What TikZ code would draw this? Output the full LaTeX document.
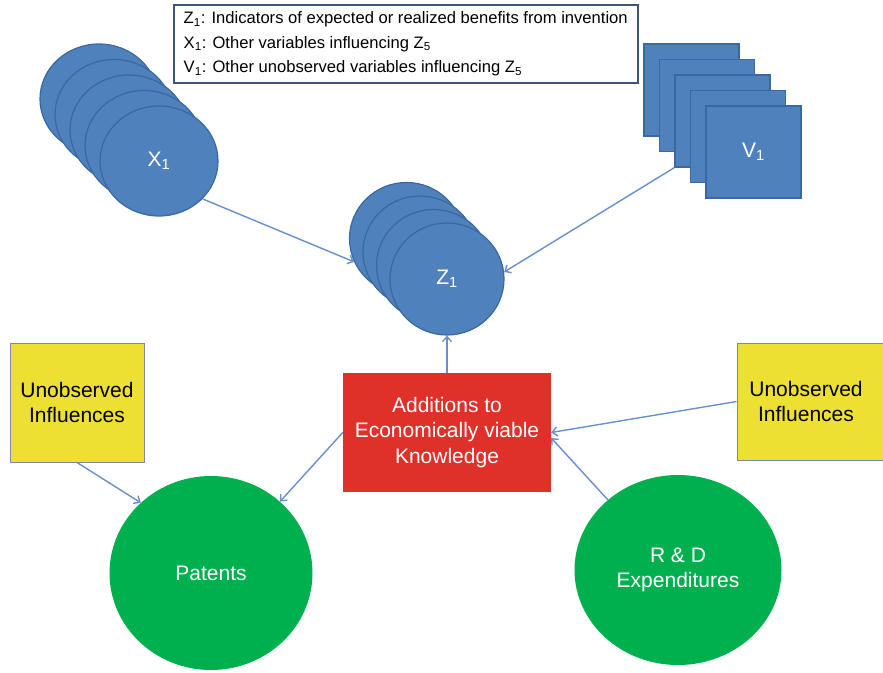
\documentclass[tikz,border=0pt]{standalone}
\usepackage{fontspec}
\setmainfont{Liberation Sans}
\usetikzlibrary{shapes.geometric,arrows.meta}

\definecolor{nodeblue}{HTML}{4F81BD}
\definecolor{edgeblue}{HTML}{3A68A0}
\definecolor{linkblue}{HTML}{6790CC}
\definecolor{boxred}{HTML}{E0302A}
\definecolor{boxyellow}{HTML}{EDE033}
\definecolor{yellowedge}{HTML}{7F8AA6}
\definecolor{nodegreen}{HTML}{00B04F}
\definecolor{legendedge}{HTML}{3D5478}

\tikzset{
  bigfont/.style={font=\fontsize{21}{25.5}\selectfont},
  blueball/.style={ellipse, draw=edgeblue, line width=1.2pt, fill=nodeblue,
    text=white, inner sep=0pt, bigfont},
  bluesq/.style={rectangle, draw=edgeblue, line width=1.2pt, fill=nodeblue,
    text=white, inner sep=0pt, minimum width=95, minimum height=92, bigfont},
  redbox/.style={rectangle, fill=boxred, text=white, inner sep=0pt,
    minimum width=208, minimum height=119, align=center, bigfont},
  yellowbox/.style={rectangle, draw=yellowedge, line width=1pt, fill=boxyellow,
    text=black, inner sep=0pt, align=center, bigfont},
  greenball/.style={ellipse, fill=nodegreen, text=white, inner sep=0pt,
    align=center, bigfont},
  legend/.style={rectangle, draw=legendedge, line width=1.5pt, fill=white,
    align=left, inner xsep=3pt, inner ysep=2pt, minimum width=464,
    minimum height=78, font=\fontsize{16.6}{24.5}\selectfont},
  link/.style={draw=linkblue, line width=1.4pt,
    -{Straight Barb[length=5pt,width=9pt]}},
}

\begin{document}
\begin{tikzpicture}[x=1pt,y=-1pt]
\useasboundingbox (0,0) rectangle (883,672);

% legend
\node[legend, anchor=north west] (key) at (173,4)
  {\raisebox{-3pt}{}Z\textsubscript{1}: Indicators of expected or realized benefits from invention\\
   X\textsubscript{1}: Other variables influencing Z\textsubscript{5}\\
   V\textsubscript{1}: Other unobserved variables influencing Z\textsubscript{5}};

% stack of X circles
\foreach \i in {0,...,3}
  \node[blueball, minimum width=118, minimum height=110] (x\i)
    at ({99+15*\i},{99+15.5*\i}) {};
\node[blueball, minimum width=118, minimum height=110] (x4) at (159,161)
  {X\textsubscript{1}};

% stack of V squares
\foreach \i in {0,...,3}
  \node[bluesq] (v\i) at ({691.5+15.5*\i},{90+15.5*\i}) {};
\node[bluesq] (v4) at (753.5,152) {V\textsubscript{1}};

% stack of Z circles
\foreach \i in {0,...,2}
  \node[blueball, minimum width=114, minimum height=112] (z\i)
    at ({406.5+13.5*\i},{238.5+13.5*\i}) {};
\node[blueball, minimum width=114, minimum height=112] (z3) at (447,279)
  {Z\textsubscript{1}};

% central box
\node[redbox] (know) at (447,432.5)
  {Additions to\\Economically viable\\Knowledge};

% unobserved influences
\node[yellowbox, minimum width=134, minimum height=119] (uleft) at (77,402.5)
  {Unobserved\\Influences};
\node[yellowbox, minimum width=146, minimum height=117] (uright) at (810,401.5)
  {Unobserved\hspace*{8pt}\\Influences\hspace*{8pt}};

% observed outcomes / inputs
\node[greenball, minimum width=203, minimum height=194] (pat) at (211,573)
  {Patents};
\node[greenball, minimum width=207, minimum height=190] (rd) at (678,570)
  {R \& D\\Expenditures};

% connectors
\draw[link] (x4.-41) -- (z0.204);
\draw[link] (v2.south west) -- (z3.7);
\draw[link] (know.north) -- (z3.south);
\draw[link] (know.west) -- (pat.46);
\draw[link] (uleft.south) -- (pat.135);
\draw[link] (uright.west) -- (know.east);
\draw[link] (rd.135) -- (know.-3);
\end{tikzpicture}
\end{document}
